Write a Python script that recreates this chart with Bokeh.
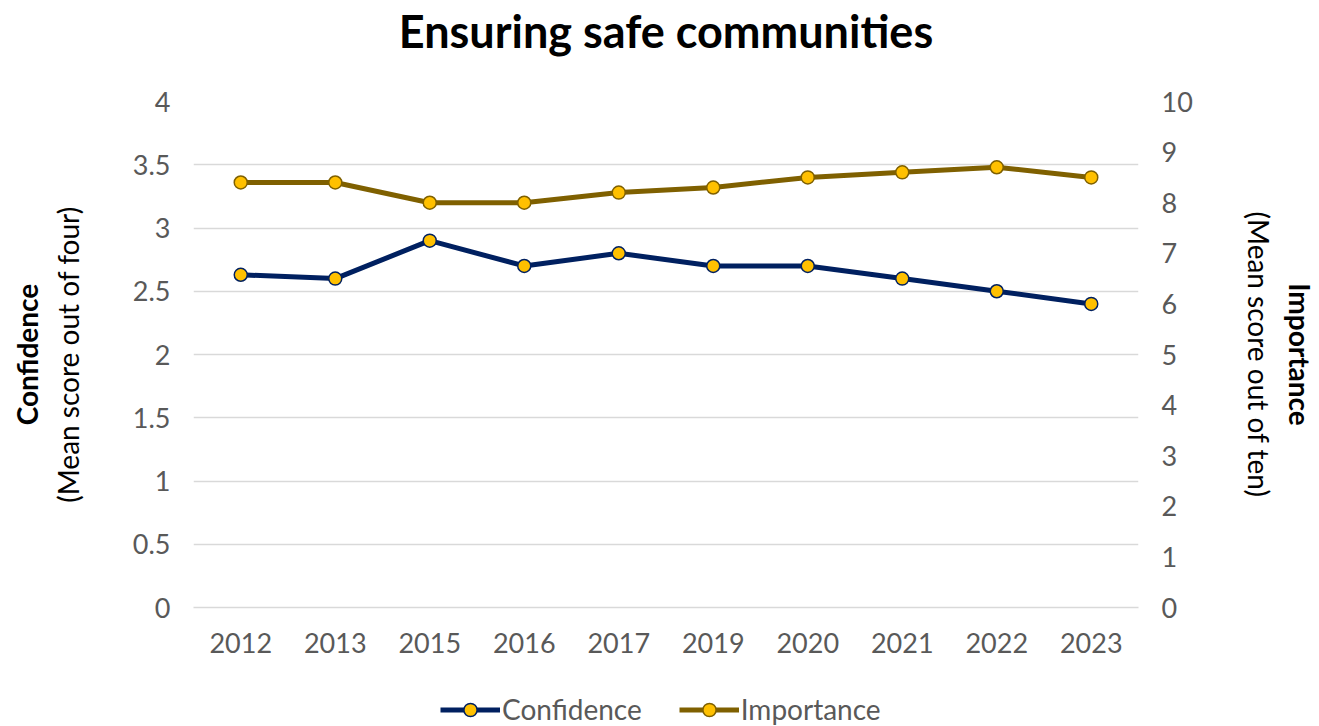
from bokeh.plotting import figure
from bokeh.layouts import column
from bokeh.models import (LinearAxis, Range1d, FixedTicker, Legend, LegendItem,
                          NumeralTickFormatter)
from bokeh.embed import file_html
from bokeh.resources import INLINE

years = ["2012", "2013", "2015", "2016", "2017", "2019", "2020", "2021", "2022", "2023"]
confidence = [2.63, 2.60, 2.90, 2.70, 2.80, 2.70, 2.70, 2.60, 2.50, 2.40]
importance = [8.4, 8.4, 8.0, 8.0, 8.2, 8.3, 8.5, 8.6, 8.7, 8.5]
left_ticks = [0, 0.5, 1, 1.5, 2, 2.5, 3, 3.5, 4]
right_ticks = [0, 1, 2, 3, 4, 5, 6, 7, 8, 9, 10]
title_text = "Ensuring safe communities"
series_names = ["Confidence", "Importance"]

FONT = "Lato"
GREY = "#595959"
NAVY = "#002060"
OLIVE = "#7F6000"
GOLD = "#FFC000"
TICK_SIZE = "27px"
LABEL_SIZE = "28px"

p = figure(x_range=years, y_range=Range1d(0, 4), width=1319, height=690,
           output_backend="svg", toolbar_location=None,
           min_border_left=193, min_border_right=181, min_border_top=101,
           min_border_bottom=83, outline_line_color=None)
p.extra_y_ranges = {"imp": Range1d(0, 10)}
p.title.visible = False
p.above = []

def style_axis(ax):
    ax.axis_line_color = None
    ax.major_tick_line_color = None
    ax.minor_tick_line_color = None
    ax.major_tick_in = 0
    ax.major_tick_out = 0
    ax.major_label_text_font = FONT
    ax.major_label_text_font_size = TICK_SIZE
    ax.major_label_text_color = GREY
    ax.axis_label_text_font = FONT
    ax.axis_label_text_font_size = LABEL_SIZE
    ax.axis_label_text_color = "#000000"
    ax.axis_label_text_font_style = "normal"

# x axis
xa = p.below[0]
style_axis(xa)
xa.axis_line_color = "#d9d9d9"
xa.axis_line_width = 1.5
xa.major_label_standoff = 25

# left axis
ya = p.left[0]
style_axis(ya)
ya.ticker = FixedTicker(ticks=left_ticks)
ya.formatter = NumeralTickFormatter(format="0.[0]")
ya.major_label_standoff = 23
ya.axis_label = "(Mean score out of four)"
ya.axis_label_standoff = 45

# title drawn as the label of an empty axis above the plot
ta = LinearAxis(ticker=FixedTicker(ticks=[]))
style_axis(ta)
ta.axis_label = title_text
ta.axis_label_text_font_size = "45px"
ta.axis_label_text_font_style = "bold"
ta.axis_label_standoff = 44
p.add_layout(ta, "above")

ya2 = LinearAxis(ticker=FixedTicker(ticks=[]))
style_axis(ya2)
ya2.axis_label = "Confidence"
ya2.axis_label_text_font_style = "bold"
ya2.axis_label_standoff = 4
p.add_layout(ya2, "left")

# right axes
yr = LinearAxis(y_range_name="imp", ticker=FixedTicker(ticks=right_ticks))
style_axis(yr)
yr.major_label_standoff = 23
yr.axis_label = "(Mean score out of ten)"
yr.axis_label_standoff = 46
p.add_layout(yr, "right")

yr2 = LinearAxis(y_range_name="imp", ticker=FixedTicker(ticks=[]))
style_axis(yr2)
yr2.axis_label = "Importance"
yr2.axis_label_text_font_style = "bold"
yr2.axis_label_standoff = 4
p.add_layout(yr2, "right")

p.xgrid.visible = False
p.ygrid.ticker = FixedTicker(ticks=left_ticks)
p.ygrid.grid_line_color = "#d9d9d9"
p.ygrid.grid_line_width = 1.5

p.line(years, confidence, line_color=NAVY, line_width=5)
p.scatter(years, confidence, size=13, fill_color=GOLD, line_color=NAVY, line_width=1.5)
p.line(years, importance, line_color=OLIVE, line_width=5, y_range_name="imp")
p.scatter(years, importance, size=13, fill_color=GOLD, line_color=OLIVE, line_width=1.5,
          y_range_name="imp")

# legend strip below the chart (its frame is aligned with the chart's frame)
lg = figure(width=1319, height=36, output_backend="svg", toolbar_location=None,
            x_range=Range1d(0, 1), y_range=Range1d(0, 1), x_axis_type=None,
            y_axis_type=None, min_border=0, outline_line_color=None)
lg.title.visible = False
lg.above = []
lg.grid.visible = False
off = [-10, -9]  # keys only: drawn outside the visible range
ll1 = lg.line(x=off, y=off, line_color=NAVY, line_width=5)
ls1 = lg.scatter(x=off, y=off, size=13, fill_color=GOLD, line_color=NAVY, line_width=1.5)
ll2 = lg.line(x=off, y=off, line_color=OLIVE, line_width=5)
ls2 = lg.scatter(x=off, y=off, size=13, fill_color=GOLD, line_color=OLIVE, line_width=1.5)

legend = Legend(items=[LegendItem(label=series_names[0], renderers=[ll1, ls1]),
                       LegendItem(label=series_names[1], renderers=[ll2, ls2])],
                orientation="horizontal", location=(247, 0),
                padding=0, margin=0, border_line_color=None, background_fill_alpha=0,
                label_text_font=FONT, label_text_font_size=LABEL_SIZE, label_text_color=GREY,
                glyph_width=60, glyph_height=33, label_standoff=2, spacing=37)
lg.add_layout(legend, "center")

layout = column(p, lg, spacing=0)
open("out.html", "w").write(file_html(layout, INLINE))
